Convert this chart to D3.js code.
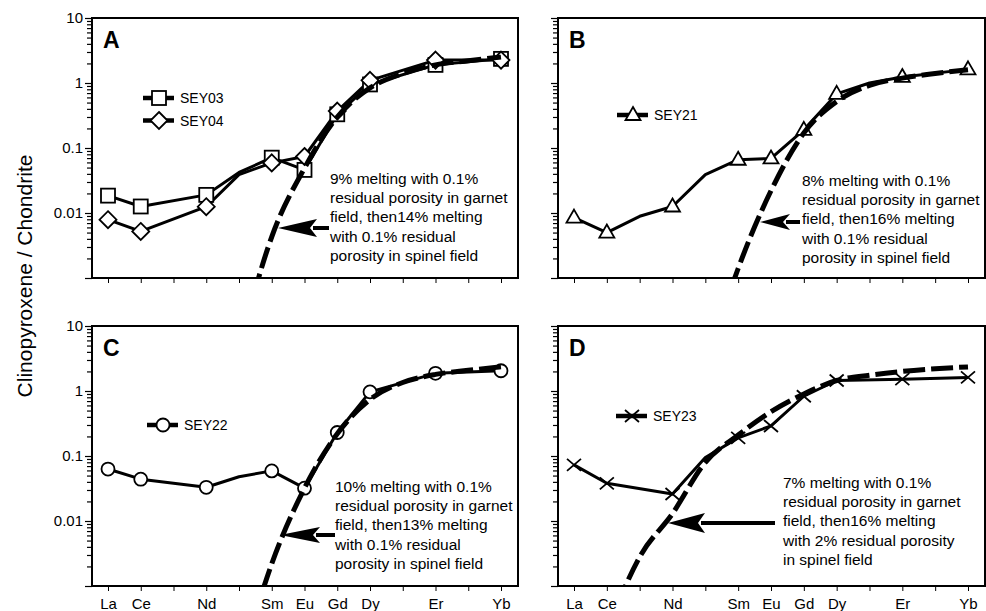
<!DOCTYPE html>
<html>
<head>
<meta charset="utf-8">
<script src="https://cdn.jsdelivr.net/npm/d3@7"></script>
<style>
body { margin: 0; background: #fff; }
svg { display: block; font-family: "Liberation Sans", Arial, Helvetica, sans-serif; }
</style>
</head>
<body>
<div id="chart"></div>
<script>
// REE order on the x axis (unlabelled positions are still used by the lines)
var ree = ["La","Ce","Pr","Nd","Pm","Sm","Eu","Gd","Dy","Ho","Er","Tm","Yb"];
var reeLabels = ["La","Ce","","Nd","","Sm","Eu","Gd","Dy","","Er","","Yb"];
var yTickLabels = ["10","1","0.1","0.01"];

// measured samples (null = no point at that element)
var sey03 = [0.0185, 0.0126, null, 0.019, 0.042, 0.071, 0.046, 0.33, 0.95, null, 1.9, null, 2.35];
var sey04 = [0.0079, 0.0052, null, 0.0125, 0.039, 0.059, 0.074, 0.37, 1.1, null, 2.25, null, 2.25];
var sey21 = [0.0085, 0.005, 0.0089, 0.0126, 0.039, 0.066, 0.069, 0.19, 0.68, 1.0, 1.24, null, 1.62];
var sey22 = [0.063, 0.044, null, 0.033, 0.048, 0.059, 0.032, 0.23, 0.97, null, 1.87, null, 2.05];
var sey23 = [0.073, 0.038, null, 0.026, 0.095, 0.19, 0.29, 0.83, 1.45, null, 1.52, null, 1.62];

// melting models (values below 0.001 run off the bottom of the frame)
var modelA = [null, null, null, null, 0.00008, 0.0043, 0.049, 0.3, 0.84, 1.4, 1.9, 2.2, 2.5];
var modelB = [null, null, null, null, 0.00004, 0.0014, 0.022, 0.17, 0.52, 0.92, 1.19, 1.4, 1.6];
var modelC = [null, null, null, null, 0.00005, 0.0022, 0.032, 0.22, 0.74, 1.35, 1.8, 2.08, 2.35];
var modelD = [null, 0.0002, 0.0028, 0.013, 0.08, 0.21, 0.48, 0.9, 1.45, 1.75, 2.0, 2.2, 2.35];

var notesA = ["9% melting with 0.1%", "residual porosity in garnet", "field, then14% melting", "with 0.1% residual", "porosity in spinel field"];
var notesB = ["8% melting with 0.1%", "residual porosity in garnet", "field, then16% melting", "with 0.1% residual", "porosity in spinel field"];
var notesC = ["10% melting with 0.1%", "residual porosity in garnet", "field, then13% melting", "with 0.1% residual", "porosity in spinel field"];
var notesD = ["7% melting with 0.1%", "residual porosity in garnet", "field, then16% melting", "with 2% residual porosity", "in spinel field"];

var width = 986, height = 611, panelH = 260;

var panels = [
  {letter: "A", x0: 92, x1: 518, y0: 18, showY: true, showX: false,
   series: [{name: "SEY03", values: sey03, marker: "square"}, {name: "SEY04", values: sey04, marker: "diamond"}],
   model: modelA, notes: notesA, legend: [143, 98], note: [330, 184],
   arrow: {tip: [278, 228], base: 317, end: 329, hh: 9}},
  {letter: "B", x0: 558, x1: 985, y0: 18, showY: false, showX: false,
   series: [{name: "SEY21", values: sey21, marker: "triangle"}],
   model: modelB, notes: notesB, legend: [617, 115], note: [802, 186],
   arrow: {tip: [760, 222], base: 790, end: 800, hh: 8}},
  {letter: "C", x0: 92, x1: 518, y0: 326, showY: true, showX: true,
   series: [{name: "SEY22", values: sey22, marker: "circle"}],
   model: modelC, notes: notesC, legend: [147, 425], note: [335, 492],
   arrow: {tip: [280, 535], base: 320, end: 335, hh: 8}},
  {letter: "D", x0: 558, x1: 985, y0: 326, showY: false, showX: true,
   series: [{name: "SEY23", values: sey23, marker: "cross"}],
   model: modelD, notes: notesD, legend: [616, 416], note: [783, 488],
   arrow: {tip: [668, 523], base: 705, end: 775, hh: 10}}
];

var svg = d3.select("#chart").append("svg")
    .attr("width", width)
    .attr("height", height);

// log ticks 1..9 per decade
var yTicks = [];
[0.001, 0.01, 0.1, 1].forEach(function(d) {
  for (var k = 1; k < 10; k++) yTicks.push(+(d * k).toPrecision(3));
});
yTicks.push(10);
function isMajor(v) {
  var l = Math.log10(v);
  return Math.abs(l - Math.round(l)) < 1e-9;
}

function marker(g, type, cx, cy) {
  var m = g.append("g").attr("transform", "translate(" + cx + "," + cy + ")");
  if (type == "square") {
    m.append("rect").attr("x", -7).attr("y", -7).attr("width", 14).attr("height", 14)
      .attr("fill", "white").attr("stroke", "black").attr("stroke-width", 1.8);
  } else if (type == "diamond") {
    m.append("path").attr("d", "M0,-8.5L8.5,0L0,8.5L-8.5,0Z")
      .attr("fill", "white").attr("stroke", "black").attr("stroke-width", 1.8);
  } else if (type == "triangle") {
    m.append("path").attr("d", "M0,-8L7.5,5L-7.5,5Z")
      .attr("fill", "white").attr("stroke", "black").attr("stroke-width", 1.8);
  } else if (type == "circle") {
    m.append("circle").attr("r", 6.5)
      .attr("fill", "white").attr("stroke", "black").attr("stroke-width", 1.8);
  } else {
    m.append("path").attr("d", "M-7,-6L7,6M-7,6L7,-6")
      .attr("fill", "none").attr("stroke", "black").attr("stroke-width", 1.8);
  }
}

panels.forEach(function(p, pi) {
  var g = svg.append("g");
  var xScale = d3.scalePoint().domain(ree).range([p.x0 + 16, p.x1 - 17]);
  var yScale = d3.scaleLog().domain([0.001, 10]).range([p.y0 + panelH, p.y0]);

  svg.append("clipPath").attr("id", "clip" + pi)
    .append("rect")
    .attr("x", p.x0).attr("y", p.y0)
    .attr("width", p.x1 - p.x0).attr("height", panelH);

  // x axis (ticks hang below the frame)
  var xAxis = d3.axisBottom(xScale).tickSize(5).tickSizeOuter(0).tickPadding(7)
      .tickFormat(function(d, i) { return p.showX ? reeLabels[i] : ""; });
  var xg = g.append("g")
      .attr("transform", "translate(0," + (p.y0 + panelH) + ")")
      .call(xAxis);
  xg.select(".domain").remove();
  xg.selectAll("line").attr("stroke-width", 1);
  xg.selectAll("text").attr("font-size", 15).attr("font-family", null).attr("fill", "black");
  xg.attr("font-family", null);

  // y axis, log with minor ticks
  var yAxis = d3.axisLeft(yScale).tickValues(yTicks).tickSize(5).tickPadding(4)
      .tickFormat(function(d) {
        if (!p.showY || !isMajor(d) || d < 0.005) return "";
        return yTickLabels[Math.round(1 - Math.log10(d))];
      });
  var yg = g.append("g")
      .attr("transform", "translate(" + p.x0 + ",0)")
      .call(yAxis);
  yg.select(".domain").remove();
  yg.attr("font-family", null);
  yg.selectAll(".tick line")
    .attr("stroke-width", 1.2)
    .attr("x2", function(d) { return isMajor(d) ? -7 : -5; });
  yg.selectAll(".tick text")
    .attr("x", -9)
    .attr("font-size", 15).attr("fill", "black");

  // frame
  g.append("rect")
    .attr("x", p.x0).attr("y", p.y0)
    .attr("width", p.x1 - p.x0).attr("height", panelH)
    .attr("fill", "none").attr("stroke", "black").attr("stroke-width", 2);

  var plot = g.append("g").attr("clip-path", "url(#clip" + pi + ")");

  // samples
  p.series.forEach(function(s) {
    var pts = ree.map(function(c, i) { return {c: c, v: s.values[i], lab: reeLabels[i]}; })
      .filter(function(d) { return d.v != null; });
    var line = d3.line()
      .x(function(d) { return xScale(d.c); })
      .y(function(d) { return yScale(d.v); });
    plot.append("path")
      .attr("d", line(pts))
      .attr("fill", "none").attr("stroke", "black").attr("stroke-width", 3)
      .attr("stroke-linejoin", "round");
  });
  p.series.forEach(function(s) {
    ree.forEach(function(c, i) {
      if (s.values[i] == null || reeLabels[i] == "") return;
      marker(plot, s.marker, xScale(c), yScale(s.values[i]));
    });
  });

  // model curve
  var mpts = ree.map(function(c, i) { return {c: c, v: p.model[i]}; })
    .filter(function(d) { return d.v != null; });
  var mline = d3.line()
    .curve(d3.curveMonotoneX)
    .x(function(d) { return xScale(d.c); })
    .y(function(d) { return yScale(d.v); });
  plot.append("path")
    .attr("d", mline(mpts))
    .attr("fill", "none").attr("stroke", "black").attr("stroke-width", 5)
    .attr("stroke-dasharray", "22,6");

  // panel letter
  g.append("text")
    .attr("x", p.x0 + 11).attr("y", p.y0 + 29.5)
    .attr("font-size", 23).attr("font-weight", "bold")
    .text(p.letter);

  // legend
  p.series.forEach(function(s, i) {
    var ly = p.legend[1] + i * 22.5;
    g.append("line")
      .attr("x1", p.legend[0]).attr("x2", p.legend[0] + 31)
      .attr("y1", ly).attr("y2", ly)
      .attr("stroke", "black").attr("stroke-width", 4.5);
    marker(g, s.marker, p.legend[0] + 16, ly);
    g.append("text")
      .attr("x", p.legend[0] + 37).attr("y", ly + 5)
      .attr("font-size", 14)
      .text(s.name);
  });

  // annotation
  var note = g.append("text")
    .attr("x", p.note[0]).attr("y", p.note[1])
    .attr("font-size", 15.5);
  p.notes.forEach(function(t, i) {
    note.append("tspan")
      .attr("x", p.note[0]).attr("y", p.note[1] + i * 19.2)
      .text(t);
  });

  var a = p.arrow;
  g.append("line")
    .attr("x1", a.base - 4).attr("x2", a.end)
    .attr("y1", a.tip[1]).attr("y2", a.tip[1])
    .attr("stroke", "black").attr("stroke-width", 4);
  g.append("path")
    .attr("d", "M" + a.tip[0] + "," + a.tip[1] +
               "L" + a.base + "," + (a.tip[1] - a.hh) +
               "L" + (a.base - 7) + "," + a.tip[1] +
               "L" + a.base + "," + (a.tip[1] + a.hh) + "Z")
    .attr("fill", "black");
});

svg.append("text")
  .attr("transform", "translate(32,276) rotate(-90)")
  .attr("text-anchor", "middle")
  .attr("font-size", 21)
  .text("Clinopyroxene / Chondrite");
</script>
</body>
</html>
